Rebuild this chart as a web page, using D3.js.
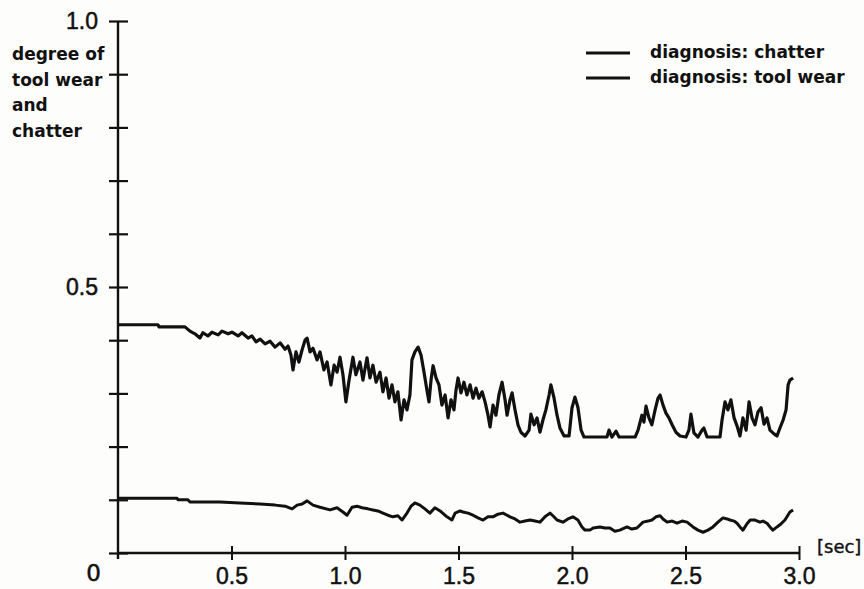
<!DOCTYPE html>
<html>
<head>
<meta charset="utf-8">
<script src="https://cdn.jsdelivr.net/npm/d3@7"></script>
<style>
  body { margin: 0; background: #fdfdfc; }
  svg { display: block; }
</style>
</head>
<body>
<div class="graph"></div>
<script>
// time [sec] and degree
const chatterTime = [0, .176, .181, .295, .317, .339, .361, .374, .396, .414, .441, .458, .485, .502, .529, .546, .573, .590, .608, .626, .648, .670, .692, .714, .736, .749, .762, .771, .784, .797, .811, .824, .833, .846, .859, .877, .890, .907, .921, .938, .952, .965, .978, .991, 1.004, 1.018, 1.035, 1.048, 1.066, 1.079, 1.097, 1.110, 1.123, 1.137, 1.154, 1.167, 1.181, 1.194, 1.207, 1.220, 1.233, 1.247, 1.260, 1.273, 1.286, 1.295, 1.308, 1.322, 1.335, 1.348, 1.361, 1.370, 1.379, 1.388, 1.401, 1.414, 1.427, 1.441, 1.454, 1.467, 1.480, 1.489, 1.498, 1.511, 1.524, 1.537, 1.551, 1.564, 1.577, 1.590, 1.604, 1.617, 1.630, 1.639, 1.652, 1.665, 1.678, 1.692, 1.705, 1.714, 1.727, 1.736, 1.749, 1.762, 1.775, 1.793, 1.811, 1.819, 1.833, 1.846, 1.859, 1.872, 1.885, 1.899, 1.907, 1.921, 1.934, 1.947, 1.965, 1.987, 2.000, 2.013, 2.026, 2.040, 2.053, 2.154, 2.163, 2.176, 2.194, 2.207, 2.278, 2.291, 2.308, 2.317, 2.326, 2.339, 2.352, 2.366, 2.379, 2.388, 2.401, 2.414, 2.427, 2.441, 2.458, 2.476, 2.502, 2.515, 2.524, 2.537, 2.555, 2.573, 2.581, 2.595, 2.652, 2.661, 2.674, 2.687, 2.700, 2.714, 2.727, 2.740, 2.753, 2.767, 2.780, 2.793, 2.806, 2.819, 2.833, 2.846, 2.859, 2.872, 2.890, 2.903, 2.916, 2.930, 2.943, 2.952, 2.960, 2.974]
const chatterValue = [.429, .429, .425, .425, .417, .412, .404, .414, .408, .415, .410, .417, .412, .415, .408, .414, .404, .408, .397, .402, .393, .398, .387, .395, .383, .389, .372, .344, .378, .359, .382, .400, .404, .378, .385, .363, .378, .344, .359, .316, .353, .340, .368, .335, .284, .325, .368, .335, .359, .325, .367, .329, .353, .321, .340, .303, .329, .291, .316, .284, .303, .250, .288, .269, .297, .363, .378, .387, .372, .340, .306, .284, .325, .352, .329, .316, .278, .297, .254, .288, .269, .306, .329, .301, .321, .297, .316, .291, .310, .291, .303, .284, .259, .237, .278, .259, .297, .321, .288, .259, .288, .301, .269, .241, .227, .220, .231, .261, .241, .254, .227, .250, .269, .297, .316, .291, .259, .235, .220, .220, .273, .293, .274, .231, .218, .218, .231, .218, .229, .218, .218, .231, .259, .246, .276, .254, .241, .269, .291, .297, .278, .263, .254, .241, .227, .220, .218, .231, .261, .226, .218, .231, .235, .218, .218, .250, .284, .269, .288, .254, .239, .220, .254, .231, .284, .254, .241, .265, .273, .242, .254, .231, .224, .220, .235, .250, .269, .316, .325, .329]

const wearTime = [0, .260, .264, .308, .317, .449, .537, .626, .692, .736, .767, .789, .811, .833, .859, .890, .934, .965, .991, 1.009, 1.031, 1.053, 1.075, 1.101, 1.123, 1.145, 1.167, 1.189, 1.211, 1.233, 1.251, 1.273, 1.291, 1.308, 1.330, 1.352, 1.374, 1.396, 1.419, 1.449, 1.471, 1.485, 1.507, 1.520, 1.542, 1.564, 1.586, 1.608, 1.630, 1.652, 1.674, 1.696, 1.714, 1.727, 1.749, 1.771, 1.793, 1.815, 1.837, 1.859, 1.881, 1.903, 1.916, 1.934, 1.960, 1.982, 2.004, 2.026, 2.044, 2.057, 2.079, 2.093, 2.123, 2.145, 2.167, 2.189, 2.211, 2.242, 2.264, 2.286, 2.313, 2.335, 2.352, 2.370, 2.388, 2.401, 2.419, 2.441, 2.463, 2.485, 2.507, 2.533, 2.555, 2.577, 2.599, 2.621, 2.643, 2.665, 2.683, 2.696, 2.714, 2.727, 2.740, 2.753, 2.771, 2.785, 2.806, 2.828, 2.841, 2.859, 2.872, 2.885, 2.903, 2.916, 2.938, 2.960, 2.974]
const wearValue = [.103, .103, .100, .100, .096, .096, .094, .092, .090, .088, .083, .090, .092, .098, .090, .086, .081, .085, .077, .071, .086, .088, .085, .083, .081, .079, .075, .071, .068, .070, .062, .075, .088, .094, .090, .083, .075, .085, .079, .068, .062, .075, .079, .077, .075, .071, .066, .062, .068, .068, .073, .075, .071, .068, .064, .058, .060, .062, .060, .058, .068, .075, .070, .062, .058, .064, .068, .062, .049, .043, .043, .047, .049, .047, .047, .041, .043, .049, .045, .047, .058, .060, .062, .068, .070, .064, .058, .060, .056, .060, .058, .049, .043, .039, .043, .049, .058, .066, .064, .062, .060, .056, .049, .043, .055, .062, .062, .058, .060, .056, .049, .043, .049, .053, .062, .077, .081]

const yTicks = [0, .1, .2, .3, .4, .5, .6, .7, .8, .9, 1.0]
const yLabels = [1.0, 0.5]
const xTicks = [0.5, 1.0, 1.5, 2.0, 2.5, 3.0]
const titleLines = ["degree of", "tool wear", "and", "chatter"]
const legendNames = ["diagnosis: chatter", "diagnosis: tool wear"]

const width = 864, height = 589
const ink = "#111"

const svg = d3.select(".graph").append("svg")
    .attr("width", width)
    .attr("height", height)
    .style("font-family", "'DejaVu Sans', sans-serif")

const x = d3.scaleLinear().domain([0, 3]).range([118, 799])
const y = d3.scaleLinear().domain([0, 1]).range([553, 21])

// number labels, slightly heavier than regular
const numStyle = s => s.attr("fill", ink).attr("stroke", ink).attr("stroke-width", 0.5)
    .attr("font-size", 23).style("font-size", "23px")

// y axis, ticks cross the line
const yAxis = g => g
    .attr("transform", `translate(${x(0)},0)`)
    .call(d3.axisLeft(y).tickValues(yTicks).tickSize(9)
        .tickFormat(d => yLabels.includes(d) ? d3.format(".1f")(d) : "").tickPadding(11))
    .call(g => g.select(".domain").remove())
    .call(g => g.selectAll(".tick line").attr("x2", 10).attr("x1", -9)
        .attr("stroke", ink).attr("stroke-width", 2.2))
    .call(g => g.selectAll(".tick text").call(numStyle))

svg.append("g").call(yAxis)

svg.append("line")
    .attr("x1", x(0)).attr("x2", x(0))
    .attr("y1", y(1)).attr("y2", y(0) + 6)
    .attr("stroke", ink).attr("stroke-width", 2.4)

// x axis
const xAxis = g => g
    .attr("transform", `translate(0,${y(0)})`)
    .call(d3.axisBottom(x).tickValues(xTicks).tickSize(7).tickFormat(d3.format(".1f")).tickPadding(8))
    .call(g => g.select(".domain").remove())
    .call(g => g.selectAll(".tick line").attr("y1", -7).attr("stroke", ink).attr("stroke-width", 2))
    .call(g => g.selectAll(".tick text").call(numStyle))

svg.append("g").call(xAxis)

svg.append("line")
    .attr("x1", x(0)).attr("x2", x(3))
    .attr("y1", y(0)).attr("y2", y(0))
    .attr("stroke", ink).attr("stroke-width", 2.4)

svg.append("text")
    .attr("x", 101).attr("y", 574)
    .attr("text-anchor", "end").attr("dominant-baseline", "middle")
    .call(numStyle)
    .text("0")

svg.append("text")
    .attr("x", 817).attr("y", 548)
    .attr("dominant-baseline", "middle")
    .style("font-size", "18px").attr("fill", ink)
    .attr("stroke", ink).attr("stroke-width", 0.4)
    .text("[sec]")

// y title
svg.append("g").selectAll("text")
    .data(titleLines)
    .join("text")
    .attr("x", 12)
    .attr("y", (d, i) => 55 + i * 25.5)
    .attr("dominant-baseline", "middle")
    .style("font-size", "17px").style("font-weight", "bold")
    .attr("fill", ink)
    .text(d => d)

// series
const line = d3.line().x(d => x(d[0])).y(d => y(d[1]))
const chatter = d3.zip(chatterTime, chatterValue)
const wear = d3.zip(wearTime, wearValue)

svg.append("path")
    .datum(chatter)
    .attr("fill", "none")
    .attr("stroke", ink).attr("stroke-width", 3.2)
    .attr("stroke-linejoin", "round")
    .attr("d", line)

svg.append("path")
    .datum(wear)
    .attr("fill", "none")
    .attr("stroke", ink).attr("stroke-width", 3)
    .attr("stroke-linejoin", "round")
    .attr("d", line)

// legend
const legend = svg.append("g").selectAll("g")
    .data(legendNames)
    .join("g")
    .attr("transform", (d, i) => `translate(586,${53 + i * 25})`)

legend.append("line")
    .attr("x1", 0).attr("x2", 44)
    .attr("stroke", ink).attr("stroke-width", 3)

legend.append("text")
    .attr("x", 64)
    .attr("dominant-baseline", "middle")
    .style("font-size", "17px").style("font-weight", "bold")
    .attr("fill", ink)
    .text(d => d)
</script>
</body>
</html>
